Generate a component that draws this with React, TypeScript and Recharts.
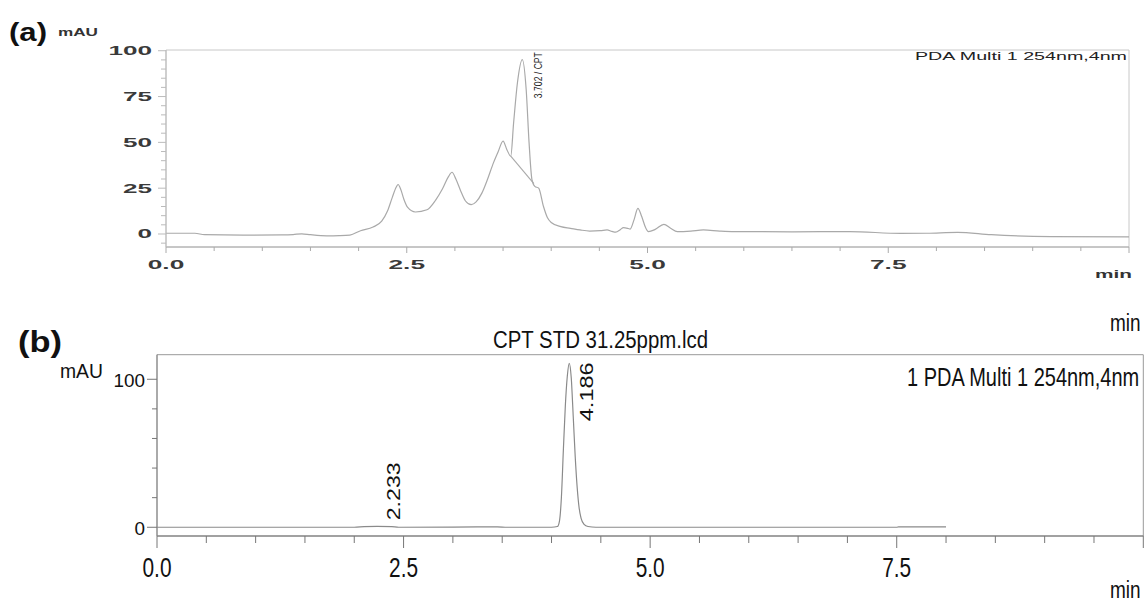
import React from 'react';
import { LineChart, Line, XAxis, YAxis, ReferenceLine, ReferenceDot, ReferenceArea } from 'recharts';

// (a) sample chromatogram, 254 nm
const timeA = [
  0, 0.3, 0.4, 0.8, 1.2, 1.32, 1.41, 1.5, 1.67, 1.8, 1.91, 2.02, 2.15, 2.24, 2.3, 2.35, 2.39, 2.41, 2.44,
  2.47, 2.51, 2.59, 2.71, 2.8, 2.87, 2.93, 2.97, 3.01, 3.06, 3.11, 3.17, 3.22, 3.28, 3.34, 3.4, 3.45, 3.5,
  3.54, 3.58, 3.61, 3.65, 3.7, 3.74, 3.77, 3.8, 3.83, 3.87, 3.92, 3.96, 4.0, 4.1, 4.2, 4.3, 4.4, 4.51, 4.58,
  4.63, 4.67, 4.72, 4.75, 4.8, 4.82, 4.86, 4.9, 4.94, 4.98, 5.01, 5.08, 5.17, 5.24, 5.31, 5.45, 5.58, 5.75,
  5.9, 6.5, 7.1, 7.63, 7.9, 8.22, 8.57, 9.19, 10,
];
const signalA = [
  0.4, 0.4, -0.4, -0.6, -0.5, -0.3, 0.1, -0.4, -1.0, -0.9, -0.6, 1.8, 3.8, 7.0, 12.5, 20, 25.5, 27, 24,
  19, 14.5, 12, 13.2, 18.5, 24.5, 31, 33.7, 30, 23.5, 18, 16, 17.5, 22.3, 30, 38.8, 45, 50.7,
  46, 42.5, 60.8, 82.8, 95.2, 79, 50, 29.7, 26, 25, 15, 9, 6.3, 4, 3.1, 2.2, 1.6, 1.8, 2.2,
  1.4, 1.0, 2.5, 3.5, 3.0, 2.7, 7.7, 14, 9.5, 3.5, 1.3, 2.5, 5.3, 3.1, 1.3, 1.6, 2.2, 1.6,
  1.3, 1.2, 1.3, 0.3, 0.4, 0.9, -0.4, -1.4, -1.6,
];

// (b) CPT STD 31.25 ppm
const timeB = [
  0, 1, 2, 2.1, 2.23, 2.38, 2.45, 3, 3.45, 3.55, 4, 4.06, 4.08, 4.1, 4.12, 4.14, 4.16, 4.18, 4.2,
  4.22, 4.24, 4.26, 4.28, 4.3, 4.33, 4.37, 4.45, 5, 6, 7.5, 7.52, 8,
];
const signalB = [
  0, 0, 0, 0.4, 0.6, 0.4, 0, 0.1, 0.3, 0, 0, 0.5, 4, 20, 52, 82, 102, 110.8, 101,
  75, 48, 27, 13, 6, 2, 0.5, 0, 0, 0, 0, 0.3, 0.3,
];

const xTicks = [0, 0.5, 1, 1.5, 2, 2.5, 3, 3.5, 4, 4.5, 5, 5.5, 6, 6.5, 7, 7.5, 8, 8.5, 9, 9.5, 10];
const xLabels = [0, 2.5, 5, 7.5];
const yTicksA = [-5, 0, 5, 10, 15, 20, 25, 30, 35, 40, 45, 50, 55, 60, 65, 70, 75, 80, 85, 90, 95, 100];
const yLabelsA = [0, 25, 50, 75, 100];
const yTicksB = [0, 20, 40, 60, 80, 100];
const yLabelsB = [0, 100];

const peakA = { time: 3.702, height: 95.2, label: '3.702 / CPT' };
const splitA = [{ x: 3.58, y: 42.5 }, { x: 3.82, y: 27.5 }];
const peaksB = [
  { time: 4.186, height: 110.8, label: '4.186' },
  { time: 2.233, height: 0, label: '2.233' },
];

const dataA = timeA.map((t, i) => ({ t, v: signalA[i] }));
const dataB = timeB.map((t, i) => ({ t, v: signalB[i] }));

const FONT = '"Liberation Sans", Arial, Helvetica, sans-serif';

// text squeezed / stretched to a given width, like the scanned figure
const Fit = ({ x, y, w, size, anchor = 'start', weight = 'normal', fill = '#111', children }: any) => {
  const x0 = anchor === 'middle' ? x - w / 2 : anchor === 'end' ? x - w : x;
  return (
    <text x={x0} y={y} textLength={w} lengthAdjust="spacingAndGlyphs" fontSize={size}
      fontWeight={weight} fill={fill} fontFamily={FONT}>
      {children}
    </text>
  );
};

// narrow-looking text: natural width, stretched vertically
const Tall = ({ x, y, size, sy = 1.25, fill = '#111', children }: any) => (
  <text transform={`translate(${x},${y}) scale(1,${sy})`} fontSize={size} fill={fill} fontFamily={FONT}>
    {children}
  </text>
);

const labelWidth = (s: string, digit: number, dot: number) =>
  s.split('').reduce((acc, c) => acc + (c === '.' ? dot : digit), 0);

const XTickA = ({ x, y, payload }: any) => {
  const v = payload.value;
  const major = v % 2.5 === 0;
  const s = v.toFixed(1);
  return (
    <g>
      <line x1={x} x2={x} y1={y} y2={y + (major ? 6 : 4)} stroke="#aaa" />
      {xLabels.includes(v) && (
        <Fit x={x} y={y + 22} w={labelWidth(s, 14.5, 7.5)} size={12} anchor="middle" weight="bold" fill="#3a3a3a">{s}</Fit>
      )}
    </g>
  );
};

const YTickA = ({ x, y, payload }: any) => {
  const v = payload.value;
  const major = yLabelsA.includes(v);
  const s = String(v);
  return (
    <g>
      <line x1={x - (major ? 8 : 5)} x2={x} y1={y} y2={y} stroke="#bbb" />
      {major && (
        <Fit x={x - 14} y={y + 4.5} w={labelWidth(s, 14.5, 7.5)} size={12} anchor="end" weight="bold" fill="#3a3a3a">{s}</Fit>
      )}
    </g>
  );
};

const XTickB = ({ x, y, payload }: any) => {
  const v = payload.value;
  const major = v % 2.5 === 0;
  const s = v.toFixed(1);
  return (
    <g>
      <line x1={x} x2={x} y1={y} y2={y + (major ? 12 : 7)} stroke="#777" />
      {xLabels.includes(v) && (
        <Fit x={x} y={y + 41} w={29} size={27} anchor="middle">{s}</Fit>
      )}
    </g>
  );
};

const YTickB = ({ x, y, payload }: any) => {
  const v = payload.value;
  const major = yLabelsB.includes(v);
  const s = String(v);
  return (
    <g>
      <line x1={x - (major ? 10 : 5)} x2={x} y1={y} y2={y} stroke="#777" />
      {major && (
        <Fit x={x - 12} y={y + 7.5} w={labelWidth(s, 10.5, 5)} size={19} anchor="end">{s}</Fit>
      )}
    </g>
  );
};

// vertical peak label, reads bottom-to-top
const peakLabel = (text: string, dx: number, dy: number, len: number, size: number, fill: string) =>
  (props: any) => {
    const vb = props.viewBox || {};
    const cx = (vb.x || 0) + (vb.width || 0) / 2;
    const cy = (vb.y || 0) + (vb.height || 0) / 2;
    return (
      <text transform={`translate(${cx + dx},${cy + dy}) rotate(-90)`} textLength={len}
        lengthAdjust="spacingAndGlyphs" fontSize={size} fill={fill} fontFamily={FONT}>
        {text}
      </text>
    );
  };

export default function App() {
  return (
    <div style={{ position: 'absolute', left: 0, top: 0, width: 1145, height: 605, background: '#fff', overflow: 'hidden' }}>
      {/* panel (a) */}
      <div style={{ position: 'absolute', left: 0, top: 0 }}>
        <LineChart width={1145} height={290} data={dataA} margin={{ top: 50, right: 16, bottom: 13, left: 106 }}>
          <ReferenceArea x1={0} x2={10} y1={-7.1} y2={100.4} fill="none" stroke="#c8c8c8" ifOverflow="visible" />
          <XAxis type="number" dataKey="t" domain={[0, 10]} ticks={xTicks} interval={0} height={30}
            tickSize={0} tickMargin={0} tickLine={false} axisLine={{ stroke: '#aaa' }}
            tick={(p: any) => <XTickA {...p} />} allowDataOverflow />
          <YAxis type="number" domain={[-7.1, 100.4]} ticks={yTicksA} interval={0} width={60}
            tickSize={0} tickMargin={0} tickLine={false} axisLine={{ stroke: '#bbb' }}
            tick={(p: any) => <YTickA {...p} />} allowDataOverflow />
          <Line type="monotone" dataKey="v" stroke="#a9a9a9" strokeWidth={1.2} dot={false} isAnimationActive={false} />
          <ReferenceLine segment={splitA} stroke="#a9a9a9" strokeWidth={1.1} />
          <ReferenceDot x={peakA.time} y={peakA.height} r={0} stroke="none"
            label={peakLabel(peakA.label, 19, 38.6, 46, 11, '#222')} />
        </LineChart>
      </div>

      {/* panel (b) */}
      <div style={{ position: 'absolute', left: 0, top: 290 }}>
        <LineChart width={1145} height={315} data={dataB} margin={{ top: 64.7, right: 1.7, bottom: 29, left: 97 }}>
          <ReferenceArea x1={0} x2={10} y1={-5.9} y2={116.6} fill="none" stroke="#999" ifOverflow="visible" />
          <XAxis type="number" dataKey="t" domain={[0, 10]} ticks={xTicks} interval={0} height={40}
            tickSize={0} tickMargin={0} tickLine={false} axisLine={{ stroke: '#777' }}
            tick={(p: any) => <XTickB {...p} />} allowDataOverflow />
          <YAxis type="number" domain={[-5.9, 116.6]} ticks={yTicksB} interval={0} width={60}
            tickSize={0} tickMargin={0} tickLine={false} axisLine={{ stroke: '#888' }}
            tick={(p: any) => <YTickB {...p} />} allowDataOverflow />
          <Line type="monotone" dataKey="v" stroke="#8a8a8a" strokeWidth={1.2} dot={false} isAnimationActive={false} />
          <ReferenceDot x={peaksB[0].time} y={peaksB[0].height} r={0} stroke="none"
            label={peakLabel(peaksB[0].label, 23, 58, 59, 18, '#111')} />
          <ReferenceDot x={peaksB[1].time} y={peaksB[1].height} r={0} stroke="none"
            label={peakLabel(peaksB[1].label, 23, -7, 58, 18, '#111')} />
        </LineChart>
      </div>

      {/* captions */}
      <svg width={1145} height={605} style={{ position: 'absolute', left: 0, top: 0, pointerEvents: 'none' }}>
        <Fit x={9} y={41} w={38} size={26} weight="bold">(a)</Fit>
        <Fit x={58} y={36} w={40} size={10} weight="bold" fill="#333">mAU</Fit>
        <Fit x={915} y={60} w={212} size={11} fill="#222">PDA Multi 1 254nm,4nm</Fit>
        <Fit x={1095} y={278} w={37} size={11} weight="bold" fill="#333">min</Fit>

        <Tall x={1110} y={331} size={19}>min</Tall>
        <Fit x={18} y={352} w={44} size={30} weight="bold">(b)</Fit>
        <Fit x={493} y={348} w={215} size={23}>CPT STD 31.25ppm.lcd</Fit>
        <Fit x={60} y={378} w={43} size={21}>mAU</Fit>
        <Tall x={907} y={386} size={20}>1 PDA Multi 1 254nm,4nm</Tall>
        <Tall x={1110} y={598} size={19}>min</Tall>
      </svg>
    </div>
  );
}
